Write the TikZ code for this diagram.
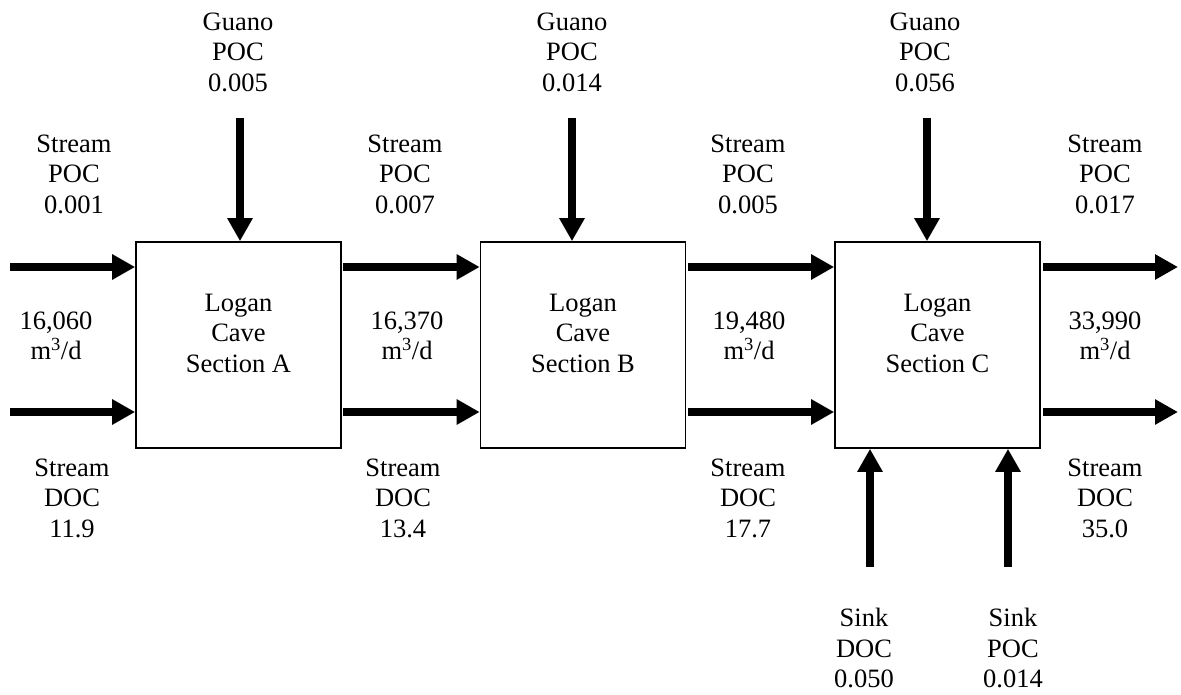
\documentclass[tikz,border=0pt]{standalone}
\usepackage{fontspec}
\setmainfont{Liberation Serif}
\usetikzlibrary{arrows.meta}
\begin{document}
\begin{tikzpicture}[x=1pt,y=-1pt,
  lbl/.style={align=center,inner sep=0pt,font=\fontsize{26.5}{30.5}\selectfont},
  box/.style={draw,line width=1.6pt,minimum width=205pt,minimum height=206pt,inner sep=0pt},
  flow/.style={line width=8.5pt,-{Triangle[length=23pt,width=24pt]}}]
\useasboundingbox (0,0) rectangle (1181,694);
% boxes
\node[box] (A) at (238.5,345) {};
\node[box] (B) at (583,345) {};
\node[box] (C) at (937.5,345) {};
\node[lbl] (tA) at (238.5,333) {Logan\\Cave\\Section A};
\node[lbl] (tB) at (583,333) {Logan\\Cave\\Section B};
\node[lbl] (tC) at (937.5,333) {Logan\\Cave\\Section C};
% horizontal flows
\coordinate (a1) at (10,267);   \coordinate (a2) at (10,412);
\coordinate (ab1) at (343,267); \coordinate (ab2) at (343,412);
\coordinate (bc1) at (688,267); \coordinate (bc2) at (688,412);
\coordinate (r1) at (1043,267); \coordinate (r2) at (1043,412);
\coordinate (r1e) at (1178,267); \coordinate (r2e) at (1178,412);
\draw[flow] (a1) -- (a1 -| A.west);
\draw[flow] (a2) -- (a2 -| A.west);
\draw[flow] (ab1) -- (ab1 -| B.west);
\draw[flow] (ab2) -- (ab2 -| B.west);
\draw[flow] (bc1) -- (bc1 -| C.west);
\draw[flow] (bc2) -- (bc2 -| C.west);
\draw[flow] (r1) -- (r1e);
\draw[flow] (r2) -- (r2e);
% guano
\coordinate (gA) at (240,118); \coordinate (gB) at (572,118); \coordinate (gC) at (927,118);
\draw[flow] (gA) -- (gA |- A.north);
\draw[flow] (gB) -- (gB |- B.north);
\draw[flow] (gC) -- (gC |- C.north);
% sinks
\coordinate (s1) at (870,567); \coordinate (s2) at (1008,567);
\draw[flow] (s1) -- (s1 |- C.south);
\draw[flow] (s2) -- (s2 |- C.south);
% labels
\node[lbl] (gl1) at (238,52) {Guano\\POC\\0.005};
\node[lbl] (gl2) at (572,52) {Guano\\POC\\0.014};
\node[lbl] (gl3) at (925,52) {Guano\\POC\\0.056};
\node[lbl] (sp1) at (74,174) {Stream\\POC\\0.001};
\node[lbl] (sp2) at (405,174) {Stream\\POC\\0.007};
\node[lbl] (sp3) at (748,174) {Stream\\POC\\0.005};
\node[lbl] (sp4) at (1105,174) {Stream\\POC\\0.017};
\node[lbl] (q1) at (56,336) {16,060\\m\textsuperscript{3}/d};
\node[lbl] (q2) at (407,336) {16,370\\m\textsuperscript{3}/d};
\node[lbl] (q3) at (749,336) {19,480\\m\textsuperscript{3}/d};
\node[lbl] (q4) at (1105,336) {33,990\\m\textsuperscript{3}/d};
\node[lbl] (sd1) at (72,498) {Stream\\DOC\\11.9};
\node[lbl] (sd2) at (403,498) {Stream\\DOC\\13.4};
\node[lbl] (sd3) at (748,498) {Stream\\DOC\\17.7};
\node[lbl] (sd4) at (1105,498) {Stream\\DOC\\35.0};
\node[lbl] (k1) at (864,648) {Sink\\DOC\\0.050};
\node[lbl] (k2) at (1013,648) {Sink\\POC\\0.014};
\end{tikzpicture}
\end{document}
